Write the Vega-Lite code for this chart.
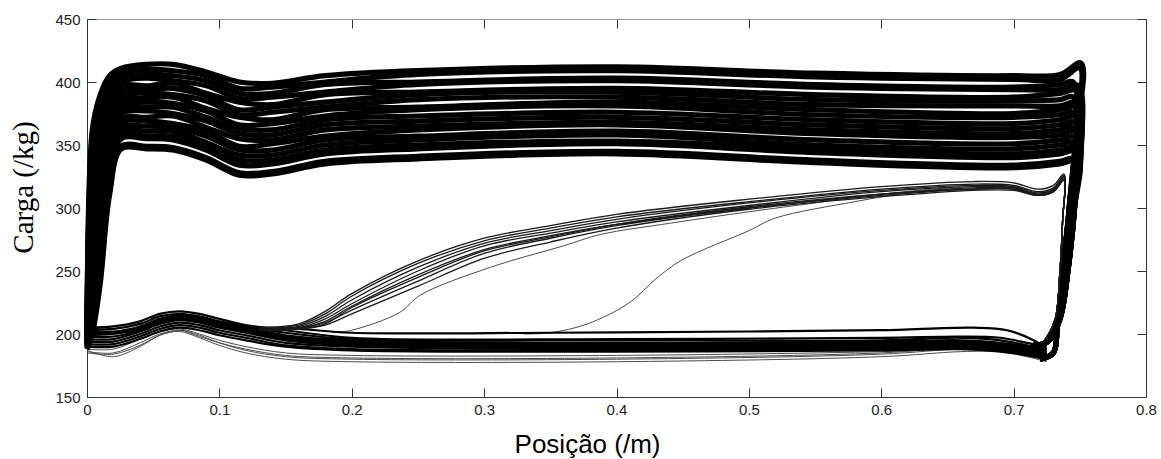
{
"$schema":"https://vega.github.io/schema/vega-lite/v6.json",
"width":1059,"height":378,
"autosize":{"type":"none"},
"padding":{"left":87,"top":19,"right":15,"bottom":62},
"config":{"view":{"stroke":null},"axis":{"grid":false}},
"datasets":{
"up":[
{"g":0,"x":0,"y":200},{"g":0,"x":0.004,"y":362},{"g":0,"x":0.01,"y":390},{"g":0,"x":0.017,"y":405},{"g":0,"x":0.026,"y":411},{"g":0,"x":0.045,"y":414},{"g":0,"x":0.065,"y":414},{"g":0,"x":0.09,"y":408},{"g":0,"x":0.115,"y":400},{"g":0,"x":0.14,"y":399},{"g":0,"x":0.18,"y":405},{"g":0,"x":0.25,"y":409},{"g":0,"x":0.4,"y":412},{"g":0,"x":0.55,"y":407},{"g":0,"x":0.7,"y":405},{"g":0,"x":0.735,"y":406},{"g":0,"x":0.751,"y":415},{"g":0,"x":0.748,"y":360},{"g":0,"x":0.745,"y":300},{"g":0,"x":0.741,"y":250},{"g":0,"x":0.735,"y":212},{"g":0,"x":0.726,"y":194},{"g":0,"x":0.715,"y":191},
{"g":1,"x":0,"y":199},{"g":1,"x":0.004,"y":353},{"g":1,"x":0.01,"y":382},{"g":1,"x":0.017,"y":400},{"g":1,"x":0.026,"y":407},{"g":1,"x":0.045,"y":410},{"g":1,"x":0.065,"y":409},{"g":1,"x":0.09,"y":405},{"g":1,"x":0.115,"y":395},{"g":1,"x":0.14,"y":396},{"g":1,"x":0.18,"y":400},{"g":1,"x":0.25,"y":406},{"g":1,"x":0.4,"y":409},{"g":1,"x":0.55,"y":404},{"g":1,"x":0.7,"y":402},{"g":1,"x":0.735,"y":402},{"g":1,"x":0.75,"y":411},{"g":1,"x":0.747,"y":360},{"g":1,"x":0.744,"y":300},{"g":1,"x":0.739,"y":250},{"g":1,"x":0.733,"y":212},{"g":1,"x":0.724,"y":193},{"g":1,"x":0.713,"y":190},
{"g":2,"x":0,"y":199},{"g":2,"x":0.004,"y":344},{"g":2,"x":0.01,"y":373},{"g":2,"x":0.017,"y":394},{"g":2,"x":0.026,"y":404},{"g":2,"x":0.045,"y":406},{"g":2,"x":0.065,"y":405},{"g":2,"x":0.09,"y":401},{"g":2,"x":0.115,"y":391},{"g":2,"x":0.14,"y":391},{"g":2,"x":0.18,"y":398},{"g":2,"x":0.25,"y":400},{"g":2,"x":0.4,"y":403},{"g":2,"x":0.55,"y":398},{"g":2,"x":0.7,"y":396},{"g":2,"x":0.735,"y":398},{"g":2,"x":0.745,"y":400},{"g":2,"x":0.742,"y":300},{"g":2,"x":0.737,"y":250},{"g":2,"x":0.733,"y":205},{"g":2,"x":0.73,"y":185},{"g":2,"x":0.72,"y":180},
{"g":3,"x":0,"y":198},{"g":3,"x":0.004,"y":334},{"g":3,"x":0.01,"y":364},{"g":3,"x":0.017,"y":389},{"g":3,"x":0.026,"y":400},{"g":3,"x":0.045,"y":403},{"g":3,"x":0.065,"y":401},{"g":3,"x":0.09,"y":397},{"g":3,"x":0.115,"y":387},{"g":3,"x":0.14,"y":388},{"g":3,"x":0.18,"y":392},{"g":3,"x":0.25,"y":398},{"g":3,"x":0.4,"y":401},{"g":3,"x":0.55,"y":396},{"g":3,"x":0.7,"y":394},{"g":3,"x":0.735,"y":394},{"g":3,"x":0.749,"y":397},{"g":3,"x":0.746,"y":300},{"g":3,"x":0.741,"y":250},{"g":3,"x":0.735,"y":212},{"g":3,"x":0.726,"y":194},{"g":3,"x":0.715,"y":191},
{"g":4,"x":0,"y":197},{"g":4,"x":0.004,"y":325},{"g":4,"x":0.01,"y":356},{"g":4,"x":0.017,"y":383},{"g":4,"x":0.026,"y":397},{"g":4,"x":0.045,"y":397},{"g":4,"x":0.065,"y":399},{"g":4,"x":0.09,"y":391},{"g":4,"x":0.115,"y":384},{"g":4,"x":0.14,"y":382},{"g":4,"x":0.18,"y":390},{"g":4,"x":0.25,"y":392},{"g":4,"x":0.4,"y":395},{"g":4,"x":0.55,"y":390},{"g":4,"x":0.7,"y":388},{"g":4,"x":0.735,"y":391},{"g":4,"x":0.747,"y":393},{"g":4,"x":0.744,"y":300},{"g":4,"x":0.739,"y":250},{"g":4,"x":0.733,"y":212},{"g":4,"x":0.724,"y":193},{"g":4,"x":0.713,"y":190},
{"g":5,"x":0,"y":197},{"g":5,"x":0.004,"y":316},{"g":5,"x":0.01,"y":347},{"g":5,"x":0.017,"y":378},{"g":5,"x":0.026,"y":393},{"g":5,"x":0.045,"y":394},{"g":5,"x":0.065,"y":395},{"g":5,"x":0.09,"y":389},{"g":5,"x":0.115,"y":378},{"g":5,"x":0.14,"y":380},{"g":5,"x":0.18,"y":384},{"g":5,"x":0.25,"y":390},{"g":5,"x":0.4,"y":392},{"g":5,"x":0.55,"y":386},{"g":5,"x":0.7,"y":385},{"g":5,"x":0.735,"y":386},{"g":5,"x":0.745,"y":388},{"g":5,"x":0.742,"y":300},{"g":5,"x":0.737,"y":250},{"g":5,"x":0.733,"y":205},{"g":5,"x":0.73,"y":185},{"g":5,"x":0.72,"y":180},
{"g":6,"x":0,"y":196},{"g":6,"x":0.004,"y":306},{"g":6,"x":0.01,"y":339},{"g":6,"x":0.017,"y":372},{"g":6,"x":0.026,"y":389},{"g":6,"x":0.045,"y":391},{"g":6,"x":0.065,"y":390},{"g":6,"x":0.09,"y":385},{"g":6,"x":0.115,"y":374},{"g":6,"x":0.14,"y":376},{"g":6,"x":0.18,"y":380},{"g":6,"x":0.25,"y":386},{"g":6,"x":0.4,"y":388},{"g":6,"x":0.55,"y":382},{"g":6,"x":0.7,"y":381},{"g":6,"x":0.735,"y":381},{"g":6,"x":0.749,"y":384},{"g":6,"x":0.746,"y":300},{"g":6,"x":0.741,"y":250},{"g":6,"x":0.735,"y":212},{"g":6,"x":0.726,"y":194},{"g":6,"x":0.715,"y":191},
{"g":7,"x":0,"y":195},{"g":7,"x":0.004,"y":297},{"g":7,"x":0.01,"y":330},{"g":7,"x":0.017,"y":367},{"g":7,"x":0.026,"y":386},{"g":7,"x":0.045,"y":387},{"g":7,"x":0.065,"y":388},{"g":7,"x":0.09,"y":379},{"g":7,"x":0.115,"y":372},{"g":7,"x":0.14,"y":370},{"g":7,"x":0.18,"y":378},{"g":7,"x":0.25,"y":380},{"g":7,"x":0.4,"y":384},{"g":7,"x":0.55,"y":378},{"g":7,"x":0.7,"y":375},{"g":7,"x":0.735,"y":378},{"g":7,"x":0.747,"y":380},{"g":7,"x":0.744,"y":300},{"g":7,"x":0.739,"y":250},{"g":7,"x":0.733,"y":212},{"g":7,"x":0.724,"y":193},{"g":7,"x":0.713,"y":190},
{"g":8,"x":0,"y":195},{"g":8,"x":0.004,"y":288},{"g":8,"x":0.01,"y":321},{"g":8,"x":0.017,"y":362},{"g":8,"x":0.026,"y":382},{"g":8,"x":0.045,"y":384},{"g":8,"x":0.065,"y":383},{"g":8,"x":0.09,"y":377},{"g":8,"x":0.115,"y":366},{"g":8,"x":0.14,"y":367},{"g":8,"x":0.18,"y":373},{"g":8,"x":0.25,"y":378},{"g":8,"x":0.4,"y":381},{"g":8,"x":0.55,"y":374},{"g":8,"x":0.7,"y":372},{"g":8,"x":0.735,"y":374},{"g":8,"x":0.745,"y":376},{"g":8,"x":0.742,"y":300},{"g":8,"x":0.737,"y":250},{"g":8,"x":0.733,"y":205},{"g":8,"x":0.73,"y":185},{"g":8,"x":0.72,"y":180},
{"g":9,"x":0,"y":194},{"g":9,"x":0.004,"y":279},{"g":9,"x":0.01,"y":313},{"g":9,"x":0.017,"y":356},{"g":9,"x":0.026,"y":379},{"g":9,"x":0.045,"y":380},{"g":9,"x":0.065,"y":380},{"g":9,"x":0.09,"y":372},{"g":9,"x":0.115,"y":363},{"g":9,"x":0.14,"y":362},{"g":9,"x":0.18,"y":370},{"g":9,"x":0.25,"y":373},{"g":9,"x":0.4,"y":376},{"g":9,"x":0.55,"y":370},{"g":9,"x":0.7,"y":367},{"g":9,"x":0.735,"y":370},{"g":9,"x":0.749,"y":373},{"g":9,"x":0.746,"y":300},{"g":9,"x":0.741,"y":250},{"g":9,"x":0.735,"y":212},{"g":9,"x":0.726,"y":194},{"g":9,"x":0.715,"y":191},
{"g":10,"x":0,"y":193},{"g":10,"x":0.004,"y":269},{"g":10,"x":0.01,"y":304},{"g":10,"x":0.017,"y":351},{"g":10,"x":0.026,"y":375},{"g":10,"x":0.045,"y":377},{"g":10,"x":0.065,"y":375},{"g":10,"x":0.09,"y":369},{"g":10,"x":0.115,"y":359},{"g":10,"x":0.14,"y":358},{"g":10,"x":0.18,"y":366},{"g":10,"x":0.25,"y":369},{"g":10,"x":0.4,"y":372},{"g":10,"x":0.55,"y":366},{"g":10,"x":0.7,"y":363},{"g":10,"x":0.735,"y":366},{"g":10,"x":0.747,"y":368},{"g":10,"x":0.744,"y":300},{"g":10,"x":0.739,"y":250},{"g":10,"x":0.733,"y":212},{"g":10,"x":0.724,"y":193},{"g":10,"x":0.713,"y":190},
{"g":11,"x":0,"y":192},{"g":11,"x":0.004,"y":260},{"g":11,"x":0.01,"y":296},{"g":11,"x":0.017,"y":345},{"g":11,"x":0.026,"y":371},{"g":11,"x":0.045,"y":372},{"g":11,"x":0.065,"y":373},{"g":11,"x":0.09,"y":364},{"g":11,"x":0.115,"y":355},{"g":11,"x":0.14,"y":354},{"g":11,"x":0.18,"y":362},{"g":11,"x":0.25,"y":365},{"g":11,"x":0.4,"y":368},{"g":11,"x":0.55,"y":362},{"g":11,"x":0.7,"y":359},{"g":11,"x":0.735,"y":362},{"g":11,"x":0.745,"y":364},{"g":11,"x":0.742,"y":300},{"g":11,"x":0.737,"y":250},{"g":11,"x":0.733,"y":205},{"g":11,"x":0.73,"y":185},{"g":11,"x":0.72,"y":180},
{"g":12,"x":0,"y":192},{"g":12,"x":0.004,"y":251},{"g":12,"x":0.01,"y":287},{"g":12,"x":0.017,"y":340},{"g":12,"x":0.026,"y":368},{"g":12,"x":0.045,"y":369},{"g":12,"x":0.065,"y":367},{"g":12,"x":0.09,"y":361},{"g":12,"x":0.115,"y":349},{"g":12,"x":0.14,"y":351},{"g":12,"x":0.18,"y":357},{"g":12,"x":0.25,"y":362},{"g":12,"x":0.4,"y":366},{"g":12,"x":0.55,"y":359},{"g":12,"x":0.7,"y":356},{"g":12,"x":0.735,"y":358},{"g":12,"x":0.749,"y":361},{"g":12,"x":0.746,"y":300},{"g":12,"x":0.741,"y":250},{"g":12,"x":0.735,"y":212},{"g":12,"x":0.726,"y":194},{"g":12,"x":0.715,"y":191},
{"g":13,"x":0,"y":191},{"g":13,"x":0.004,"y":242},{"g":13,"x":0.01,"y":279},{"g":13,"x":0.017,"y":334},{"g":13,"x":0.026,"y":364},{"g":13,"x":0.045,"y":365},{"g":13,"x":0.065,"y":364},{"g":13,"x":0.09,"y":357},{"g":13,"x":0.115,"y":346},{"g":13,"x":0.14,"y":346},{"g":13,"x":0.18,"y":354},{"g":13,"x":0.25,"y":357},{"g":13,"x":0.4,"y":361},{"g":13,"x":0.55,"y":354},{"g":13,"x":0.7,"y":351},{"g":13,"x":0.735,"y":354},{"g":13,"x":0.747,"y":356},{"g":13,"x":0.744,"y":300},{"g":13,"x":0.739,"y":250},{"g":13,"x":0.733,"y":212},{"g":13,"x":0.724,"y":193},{"g":13,"x":0.713,"y":190},
{"g":14,"x":0,"y":190},{"g":14,"x":0.004,"y":232},{"g":14,"x":0.01,"y":270},{"g":14,"x":0.017,"y":329},{"g":14,"x":0.026,"y":361},{"g":14,"x":0.045,"y":361},{"g":14,"x":0.065,"y":361},{"g":14,"x":0.09,"y":352},{"g":14,"x":0.115,"y":342},{"g":14,"x":0.14,"y":342},{"g":14,"x":0.18,"y":350},{"g":14,"x":0.25,"y":354},{"g":14,"x":0.4,"y":358},{"g":14,"x":0.55,"y":350},{"g":14,"x":0.7,"y":347},{"g":14,"x":0.735,"y":350},{"g":14,"x":0.745,"y":352},{"g":14,"x":0.742,"y":300},{"g":14,"x":0.737,"y":250},{"g":14,"x":0.733,"y":205},{"g":14,"x":0.73,"y":185},{"g":14,"x":0.72,"y":180},
{"g":15,"x":0,"y":190},{"g":15,"x":0.004,"y":223},{"g":15,"x":0.01,"y":261},{"g":15,"x":0.017,"y":324},{"g":15,"x":0.026,"y":357},{"g":15,"x":0.045,"y":357},{"g":15,"x":0.065,"y":357},{"g":15,"x":0.09,"y":349},{"g":15,"x":0.115,"y":338},{"g":15,"x":0.14,"y":338},{"g":15,"x":0.18,"y":346},{"g":15,"x":0.25,"y":350},{"g":15,"x":0.4,"y":353},{"g":15,"x":0.55,"y":347},{"g":15,"x":0.7,"y":343},{"g":15,"x":0.735,"y":346},{"g":15,"x":0.749,"y":349},{"g":15,"x":0.746,"y":300},{"g":15,"x":0.741,"y":250},{"g":15,"x":0.735,"y":212},{"g":15,"x":0.726,"y":194},{"g":15,"x":0.715,"y":191},
{"g":16,"x":0,"y":189},{"g":16,"x":0.004,"y":216},{"g":16,"x":0.01,"y":255},{"g":16,"x":0.017,"y":320},{"g":16,"x":0.026,"y":355},{"g":16,"x":0.045,"y":355},{"g":16,"x":0.065,"y":354},{"g":16,"x":0.09,"y":346},{"g":16,"x":0.115,"y":334},{"g":16,"x":0.14,"y":335},{"g":16,"x":0.18,"y":343},{"g":16,"x":0.25,"y":347},{"g":16,"x":0.4,"y":351},{"g":16,"x":0.55,"y":344},{"g":16,"x":0.7,"y":340},{"g":16,"x":0.735,"y":343},{"g":16,"x":0.747,"y":345},{"g":16,"x":0.744,"y":300},{"g":16,"x":0.739,"y":250},{"g":16,"x":0.733,"y":212},{"g":16,"x":0.724,"y":193},{"g":16,"x":0.713,"y":190},
{"g":17,"x":0,"y":188},{"g":17,"x":0.004,"y":205},{"g":17,"x":0.01,"y":245},{"g":17,"x":0.017,"y":313},{"g":17,"x":0.026,"y":349},{"g":17,"x":0.045,"y":349},{"g":17,"x":0.065,"y":348},{"g":17,"x":0.09,"y":340},{"g":17,"x":0.115,"y":328},{"g":17,"x":0.14,"y":329},{"g":17,"x":0.18,"y":337},{"g":17,"x":0.25,"y":341},{"g":17,"x":0.4,"y":345},{"g":17,"x":0.55,"y":338},{"g":17,"x":0.7,"y":334},{"g":17,"x":0.735,"y":337},{"g":17,"x":0.745,"y":339},{"g":17,"x":0.742,"y":300},{"g":17,"x":0.737,"y":250},{"g":17,"x":0.733,"y":205},{"g":17,"x":0.73,"y":185},{"g":17,"x":0.72,"y":180},
{"g":18,"x":0,"y":188},{"g":18,"x":0.004,"y":200},{"g":18,"x":0.01,"y":240},{"g":18,"x":0.017,"y":310},{"g":18,"x":0.026,"y":347},{"g":18,"x":0.045,"y":347},{"g":18,"x":0.065,"y":346},{"g":18,"x":0.09,"y":338},{"g":18,"x":0.115,"y":326},{"g":18,"x":0.14,"y":327},{"g":18,"x":0.18,"y":335},{"g":18,"x":0.25,"y":339},{"g":18,"x":0.4,"y":343},{"g":18,"x":0.55,"y":336},{"g":18,"x":0.7,"y":332},{"g":18,"x":0.735,"y":335},{"g":18,"x":0.749,"y":338},{"g":18,"x":0.746,"y":300},{"g":18,"x":0.741,"y":250},{"g":18,"x":0.735,"y":212},{"g":18,"x":0.726,"y":194},{"g":18,"x":0.715,"y":191}
],
"lo":[
{"g":0,"x":0.725,"y":190},{"g":0,"x":0.71,"y":193},{"g":0,"x":0.69,"y":197},{"g":0,"x":0.66,"y":198},{"g":0,"x":0.6,"y":197},{"g":0,"x":0.4,"y":196},{"g":0,"x":0.2,"y":197},{"g":0,"x":0.15,"y":203},{"g":0,"x":0.12,"y":207},{"g":0,"x":0.1,"y":212},{"g":0,"x":0.085,"y":216},{"g":0,"x":0.07,"y":218},{"g":0,"x":0.055,"y":216},{"g":0,"x":0.04,"y":210},{"g":0,"x":0.02,"y":206},{"g":0,"x":0,"y":205},
{"g":1,"x":0.725,"y":188},{"g":1,"x":0.71,"y":191},{"g":1,"x":0.69,"y":195},{"g":1,"x":0.66,"y":197},{"g":1,"x":0.6,"y":195},{"g":1,"x":0.4,"y":195},{"g":1,"x":0.2,"y":196},{"g":1,"x":0.15,"y":201},{"g":1,"x":0.12,"y":206},{"g":1,"x":0.1,"y":210},{"g":1,"x":0.085,"y":214},{"g":1,"x":0.07,"y":216},{"g":1,"x":0.055,"y":214},{"g":1,"x":0.04,"y":208},{"g":1,"x":0.02,"y":204},{"g":1,"x":0,"y":204},
{"g":2,"x":0.725,"y":187},{"g":2,"x":0.71,"y":190},{"g":2,"x":0.69,"y":193},{"g":2,"x":0.66,"y":195},{"g":2,"x":0.6,"y":194},{"g":2,"x":0.4,"y":193},{"g":2,"x":0.2,"y":195},{"g":2,"x":0.15,"y":199},{"g":2,"x":0.12,"y":205},{"g":2,"x":0.1,"y":209},{"g":2,"x":0.085,"y":213},{"g":2,"x":0.07,"y":215},{"g":2,"x":0.055,"y":212},{"g":2,"x":0.04,"y":206},{"g":2,"x":0.02,"y":202},{"g":2,"x":0,"y":203},
{"g":3,"x":0.725,"y":186},{"g":3,"x":0.71,"y":189},{"g":3,"x":0.69,"y":192},{"g":3,"x":0.66,"y":194},{"g":3,"x":0.6,"y":193},{"g":3,"x":0.4,"y":192},{"g":3,"x":0.2,"y":194},{"g":3,"x":0.15,"y":198},{"g":3,"x":0.12,"y":204},{"g":3,"x":0.1,"y":208},{"g":3,"x":0.085,"y":212},{"g":3,"x":0.07,"y":214},{"g":3,"x":0.055,"y":211},{"g":3,"x":0.04,"y":205},{"g":3,"x":0.02,"y":201},{"g":3,"x":0,"y":201},
{"g":4,"x":0.725,"y":185},{"g":4,"x":0.71,"y":188},{"g":4,"x":0.69,"y":191},{"g":4,"x":0.66,"y":193},{"g":4,"x":0.6,"y":192},{"g":4,"x":0.4,"y":191},{"g":4,"x":0.2,"y":193},{"g":4,"x":0.15,"y":197},{"g":4,"x":0.12,"y":203},{"g":4,"x":0.1,"y":207},{"g":4,"x":0.085,"y":211},{"g":4,"x":0.07,"y":213},{"g":4,"x":0.055,"y":210},{"g":4,"x":0.04,"y":204},{"g":4,"x":0.02,"y":200},{"g":4,"x":0,"y":199},
{"g":5,"x":0.725,"y":184},{"g":5,"x":0.71,"y":187},{"g":5,"x":0.69,"y":190},{"g":5,"x":0.66,"y":192},{"g":5,"x":0.6,"y":191},{"g":5,"x":0.4,"y":190},{"g":5,"x":0.2,"y":192},{"g":5,"x":0.15,"y":196},{"g":5,"x":0.12,"y":202},{"g":5,"x":0.1,"y":206},{"g":5,"x":0.085,"y":210},{"g":5,"x":0.07,"y":212},{"g":5,"x":0.055,"y":209},{"g":5,"x":0.04,"y":203},{"g":5,"x":0.02,"y":198},{"g":5,"x":0,"y":198},
{"g":6,"x":0.725,"y":183},{"g":6,"x":0.71,"y":186},{"g":6,"x":0.69,"y":189},{"g":6,"x":0.66,"y":191},{"g":6,"x":0.6,"y":190},{"g":6,"x":0.4,"y":189},{"g":6,"x":0.2,"y":191},{"g":6,"x":0.15,"y":195},{"g":6,"x":0.12,"y":201},{"g":6,"x":0.1,"y":205},{"g":6,"x":0.085,"y":209},{"g":6,"x":0.07,"y":211},{"g":6,"x":0.055,"y":208},{"g":6,"x":0.04,"y":202},{"g":6,"x":0.02,"y":196},{"g":6,"x":0,"y":196},
{"g":7,"x":0.725,"y":182},{"g":7,"x":0.71,"y":185},{"g":7,"x":0.69,"y":188},{"g":7,"x":0.66,"y":190},{"g":7,"x":0.6,"y":189},{"g":7,"x":0.4,"y":188},{"g":7,"x":0.2,"y":190},{"g":7,"x":0.15,"y":193},{"g":7,"x":0.12,"y":199},{"g":7,"x":0.1,"y":203},{"g":7,"x":0.085,"y":207},{"g":7,"x":0.07,"y":209},{"g":7,"x":0.055,"y":206},{"g":7,"x":0.04,"y":200},{"g":7,"x":0.02,"y":194},{"g":7,"x":0,"y":194},
{"g":8,"x":0.725,"y":181},{"g":8,"x":0.71,"y":184},{"g":8,"x":0.69,"y":187},{"g":8,"x":0.66,"y":189},{"g":8,"x":0.6,"y":188},{"g":8,"x":0.4,"y":187},{"g":8,"x":0.2,"y":188},{"g":8,"x":0.15,"y":191},{"g":8,"x":0.12,"y":197},{"g":8,"x":0.1,"y":201},{"g":8,"x":0.085,"y":205},{"g":8,"x":0.07,"y":207},{"g":8,"x":0.055,"y":204},{"g":8,"x":0.04,"y":198},{"g":8,"x":0.02,"y":192},{"g":8,"x":0,"y":192},
{"g":9,"x":0.725,"y":180},{"g":9,"x":0.71,"y":183},{"g":9,"x":0.69,"y":186},{"g":9,"x":0.66,"y":188},{"g":9,"x":0.6,"y":187},{"g":9,"x":0.4,"y":186},{"g":9,"x":0.2,"y":187},{"g":9,"x":0.15,"y":190},{"g":9,"x":0.12,"y":195},{"g":9,"x":0.1,"y":199},{"g":9,"x":0.085,"y":203},{"g":9,"x":0.07,"y":205},{"g":9,"x":0.055,"y":202},{"g":9,"x":0.04,"y":196},{"g":9,"x":0.02,"y":190},{"g":9,"x":0,"y":190},
{"g":10,"x":0.725,"y":188},{"g":10,"x":0.715,"y":195},{"g":10,"x":0.695,"y":203},{"g":10,"x":0.67,"y":205},{"g":10,"x":0.6,"y":203},{"g":10,"x":0.5,"y":202},{"g":10,"x":0.35,"y":201},{"g":10,"x":0.2,"y":201},{"g":10,"x":0.16,"y":204},{"g":10,"x":0.13,"y":205}
],
"pa":[
{"g":1,"x":0.13,"y":205},{"g":1,"x":0.16,"y":208},{"g":1,"x":0.18,"y":218},{"g":1,"x":0.2,"y":232},{"g":1,"x":0.25,"y":258},{"g":1,"x":0.3,"y":276},{"g":1,"x":0.35,"y":286},{"g":1,"x":0.4,"y":295},{"g":1,"x":0.5,"y":307},{"g":1,"x":0.6,"y":317},{"g":1,"x":0.67,"y":321},{"g":1,"x":0.7,"y":320},{"g":1,"x":0.718,"y":315},{"g":1,"x":0.73,"y":318},{"g":1,"x":0.738,"y":327},{"g":1,"x":0.737,"y":290},{"g":1,"x":0.735,"y":250},{"g":1,"x":0.731,"y":210},{"g":1,"x":0.722,"y":193},
{"g":2,"x":0.13,"y":205},{"g":2,"x":0.16,"y":207},{"g":2,"x":0.18,"y":216},{"g":2,"x":0.2,"y":230},{"g":2,"x":0.25,"y":256},{"g":2,"x":0.3,"y":274},{"g":2,"x":0.35,"y":284},{"g":2,"x":0.4,"y":293},{"g":2,"x":0.5,"y":305},{"g":2,"x":0.6,"y":315},{"g":2,"x":0.67,"y":319},{"g":2,"x":0.7,"y":318},{"g":2,"x":0.718,"y":313},{"g":2,"x":0.73,"y":316},{"g":2,"x":0.738,"y":326},{"g":2,"x":0.737,"y":290},{"g":2,"x":0.735,"y":250},{"g":2,"x":0.731,"y":210},{"g":2,"x":0.722,"y":193},
{"g":3,"x":0.13,"y":204},{"g":3,"x":0.16,"y":206},{"g":3,"x":0.18,"y":214},{"g":3,"x":0.2,"y":227},{"g":3,"x":0.25,"y":253},{"g":3,"x":0.3,"y":272},{"g":3,"x":0.35,"y":282},{"g":3,"x":0.4,"y":291},{"g":3,"x":0.5,"y":304},{"g":3,"x":0.6,"y":314},{"g":3,"x":0.67,"y":318},{"g":3,"x":0.7,"y":317},{"g":3,"x":0.718,"y":312},{"g":3,"x":0.73,"y":315},{"g":3,"x":0.738,"y":325},{"g":3,"x":0.737,"y":290},{"g":3,"x":0.735,"y":250},{"g":3,"x":0.731,"y":210},{"g":3,"x":0.722,"y":193},
{"g":4,"x":0.13,"y":204},{"g":4,"x":0.16,"y":205},{"g":4,"x":0.18,"y":212},{"g":4,"x":0.2,"y":224},{"g":4,"x":0.25,"y":250},{"g":4,"x":0.3,"y":270},{"g":4,"x":0.35,"y":280},{"g":4,"x":0.4,"y":289},{"g":4,"x":0.5,"y":302},{"g":4,"x":0.6,"y":313},{"g":4,"x":0.67,"y":317},{"g":4,"x":0.7,"y":316},{"g":4,"x":0.718,"y":311},{"g":4,"x":0.73,"y":314},{"g":4,"x":0.738,"y":324},{"g":4,"x":0.737,"y":290},{"g":4,"x":0.735,"y":250},{"g":4,"x":0.731,"y":210},{"g":4,"x":0.722,"y":193},
{"g":5,"x":0.13,"y":203},{"g":5,"x":0.16,"y":204},{"g":5,"x":0.18,"y":210},{"g":5,"x":0.2,"y":222},{"g":5,"x":0.25,"y":247},{"g":5,"x":0.3,"y":267},{"g":5,"x":0.35,"y":278},{"g":5,"x":0.4,"y":287},{"g":5,"x":0.5,"y":300},{"g":5,"x":0.6,"y":311},{"g":5,"x":0.67,"y":316},{"g":5,"x":0.7,"y":316},{"g":5,"x":0.718,"y":311},{"g":5,"x":0.73,"y":313},{"g":5,"x":0.738,"y":323},{"g":5,"x":0.737,"y":290},{"g":5,"x":0.735,"y":250},{"g":5,"x":0.731,"y":210},{"g":5,"x":0.722,"y":193},
{"g":6,"x":0.13,"y":203},{"g":6,"x":0.16,"y":204},{"g":6,"x":0.18,"y":208},{"g":6,"x":0.2,"y":221},{"g":6,"x":0.25,"y":245},{"g":6,"x":0.3,"y":266},{"g":6,"x":0.35,"y":277},{"g":6,"x":0.4,"y":287},{"g":6,"x":0.5,"y":301},{"g":6,"x":0.6,"y":311},{"g":6,"x":0.67,"y":315},{"g":6,"x":0.7,"y":315},{"g":6,"x":0.718,"y":310},{"g":6,"x":0.73,"y":313},{"g":6,"x":0.738,"y":322},{"g":6,"x":0.737,"y":290},{"g":6,"x":0.735,"y":250},{"g":6,"x":0.731,"y":210},{"g":6,"x":0.722,"y":193},
{"g":7,"x":0.13,"y":204},{"g":7,"x":0.16,"y":205},{"g":7,"x":0.18,"y":209},{"g":7,"x":0.2,"y":219},{"g":7,"x":0.25,"y":242},{"g":7,"x":0.3,"y":264},{"g":7,"x":0.35,"y":276},{"g":7,"x":0.4,"y":286},{"g":7,"x":0.5,"y":300},{"g":7,"x":0.6,"y":310},{"g":7,"x":0.67,"y":315},{"g":7,"x":0.7,"y":315},{"g":7,"x":0.718,"y":310},{"g":7,"x":0.73,"y":313},{"g":7,"x":0.738,"y":322},{"g":7,"x":0.737,"y":290},{"g":7,"x":0.735,"y":250},{"g":7,"x":0.731,"y":210},{"g":7,"x":0.722,"y":193},
{"g":8,"x":0.13,"y":203},{"g":8,"x":0.16,"y":204},{"g":8,"x":0.18,"y":207},{"g":8,"x":0.2,"y":216},{"g":8,"x":0.25,"y":238},{"g":8,"x":0.3,"y":260},{"g":8,"x":0.35,"y":273},{"g":8,"x":0.4,"y":284},{"g":8,"x":0.5,"y":299},{"g":8,"x":0.6,"y":309},{"g":8,"x":0.67,"y":314},{"g":8,"x":0.7,"y":314},{"g":8,"x":0.718,"y":310},{"g":8,"x":0.73,"y":313},{"g":8,"x":0.738,"y":322},{"g":8,"x":0.737,"y":290},{"g":8,"x":0.735,"y":250},{"g":8,"x":0.731,"y":210},{"g":8,"x":0.722,"y":193}
],
"lg":[
{"g":0,"x":0.725,"y":178},{"g":0,"x":0.71,"y":182},{"g":0,"x":0.69,"y":186},{"g":0,"x":0.66,"y":188},{"g":0,"x":0.6,"y":186},{"g":0,"x":0.4,"y":183},{"g":0,"x":0.2,"y":183},{"g":0,"x":0.15,"y":185},{"g":0,"x":0.12,"y":190},{"g":0,"x":0.1,"y":195},{"g":0,"x":0.085,"y":200},{"g":0,"x":0.07,"y":204},{"g":0,"x":0.055,"y":202},{"g":0,"x":0.04,"y":196},{"g":0,"x":0.02,"y":188},{"g":0,"x":0,"y":188},
{"g":1,"x":0.725,"y":179},{"g":1,"x":0.71,"y":183},{"g":1,"x":0.69,"y":187},{"g":1,"x":0.66,"y":188},{"g":1,"x":0.6,"y":184},{"g":1,"x":0.4,"y":180},{"g":1,"x":0.2,"y":180},{"g":1,"x":0.15,"y":182},{"g":1,"x":0.12,"y":187},{"g":1,"x":0.1,"y":193},{"g":1,"x":0.085,"y":199},{"g":1,"x":0.07,"y":203},{"g":1,"x":0.055,"y":200},{"g":1,"x":0.04,"y":193},{"g":1,"x":0.02,"y":185},{"g":1,"x":0,"y":186},
{"g":2,"x":0.725,"y":180},{"g":2,"x":0.71,"y":184},{"g":2,"x":0.69,"y":186},{"g":2,"x":0.66,"y":186},{"g":2,"x":0.6,"y":182},{"g":2,"x":0.4,"y":178},{"g":2,"x":0.2,"y":178},{"g":2,"x":0.15,"y":180},{"g":2,"x":0.12,"y":185},{"g":2,"x":0.1,"y":191},{"g":2,"x":0.085,"y":197},{"g":2,"x":0.07,"y":202},{"g":2,"x":0.055,"y":199},{"g":2,"x":0.04,"y":191},{"g":2,"x":0.02,"y":184},{"g":2,"x":0,"y":185},
{"g":3,"x":0.725,"y":181},{"g":3,"x":0.71,"y":185},{"g":3,"x":0.69,"y":188},{"g":3,"x":0.66,"y":189},{"g":3,"x":0.6,"y":185},{"g":3,"x":0.4,"y":181},{"g":3,"x":0.2,"y":181},{"g":3,"x":0.15,"y":183},{"g":3,"x":0.12,"y":188},{"g":3,"x":0.1,"y":193},{"g":3,"x":0.085,"y":198},{"g":3,"x":0.07,"y":203},{"g":3,"x":0.055,"y":199},{"g":3,"x":0.04,"y":190},{"g":3,"x":0.02,"y":182},{"g":3,"x":0,"y":187},
{"g":4,"x":0.185,"y":201},{"g":4,"x":0.2,"y":203},{"g":4,"x":0.236,"y":217},{"g":4,"x":0.252,"y":231},{"g":4,"x":0.305,"y":253},{"g":4,"x":0.36,"y":270},{"g":4,"x":0.388,"y":279},{"g":4,"x":0.441,"y":288},{"g":4,"x":0.5,"y":297},{"g":4,"x":0.55,"y":304},{"g":4,"x":0.6,"y":311},{"g":4,"x":0.65,"y":316},
{"g":5,"x":0.33,"y":200},{"g":5,"x":0.35,"y":201},{"g":5,"x":0.378,"y":208},{"g":5,"x":0.41,"y":225},{"g":5,"x":0.43,"y":244},{"g":5,"x":0.45,"y":259},{"g":5,"x":0.5,"y":282},{"g":5,"x":0.52,"y":292},{"g":5,"x":0.58,"y":305},{"g":5,"x":0.62,"y":312},{"g":5,"x":0.66,"y":316}
]
},
"layer":[
{
"data":{"name":"lg"},
"mark":{"type":"line","interpolate":"catmull-rom","color":"#4a4a4a","strokeWidth":1},
"encoding":{
"x":{"field":"x","type":"quantitative","scale":{"domain":[0,0.8],"nice":false,"zero":false},
"axis":{"orient":"bottom","values":[0,0.1,0.2,0.3,0.4,0.5,0.6,0.7,0.8],"format":".1~f","tickSize":-9,"labelPadding":14,"labelFont":"Liberation Sans","labelFontSize":15,"labelColor":"#222","labelFlush":false,"domainColor":"#333","tickColor":"#333","title":"Posição (/m)","titleFont":"Liberation Sans","titleFontSize":26,"titleFontWeight":"normal","titleColor":"#000","titleX":500,"titleY":55,"titleBaseline":"alphabetic","titleAlign":"center"}},
"y":{"field":"y","type":"quantitative","scale":{"domain":[150,450],"nice":false,"zero":false},
"axis":{"orient":"left","values":[150,200,250,300,350,400,450],"tickSize":-9,"labelPadding":16,"labelFont":"Liberation Sans","labelFontSize":15,"labelColor":"#222","labelFlush":false,"domainColor":"#333","tickColor":"#333","title":"Carga (/kg)","titleFont":"Liberation Serif","titleFontSize":29,"titleFontWeight":"normal","titleColor":"#000","titleX":-64,"titleY":168,"titleBaseline":"middle","titleAlign":"center","titleAngle":-90}},
"detail":{"field":"g","type":"nominal"},
"order":{"value":null}
}
},
{
"encoding":{
"x":{"field":"x","type":"quantitative","scale":{"domain":[0,0.8],"nice":false,"zero":false},
"axis":{"orient":"top","values":[0,0.1,0.2,0.3,0.4,0.5,0.6,0.7,0.8],"labels":false,"tickSize":-9,"domainColor":"#999","tickColor":"#333","title":null}},
"y":{"field":"y","type":"quantitative","scale":{"domain":[150,450],"nice":false,"zero":false},
"axis":{"orient":"right","values":[150,200,250,300,350,400,450],"labels":false,"tickSize":-9,"domainColor":"#333","tickColor":"#333","title":null}},
"detail":{"field":"g","type":"nominal"},
"order":{"value":null}
},
"layer":[
{"data":{"name":"up"},"mark":{"type":"line","interpolate":"catmull-rom","color":"#000","strokeWidth":5.2}},
{"data":{"name":"lo"},"mark":{"type":"line","interpolate":"catmull-rom","color":"#000","strokeWidth":2.2}},
{"data":{"name":"pa"},"mark":{"type":"line","interpolate":"catmull-rom","color":"#1a1a1a","strokeWidth":1.3}}
]
}
],
"resolve":{"axis":{"x":"independent","y":"independent"}}
}
